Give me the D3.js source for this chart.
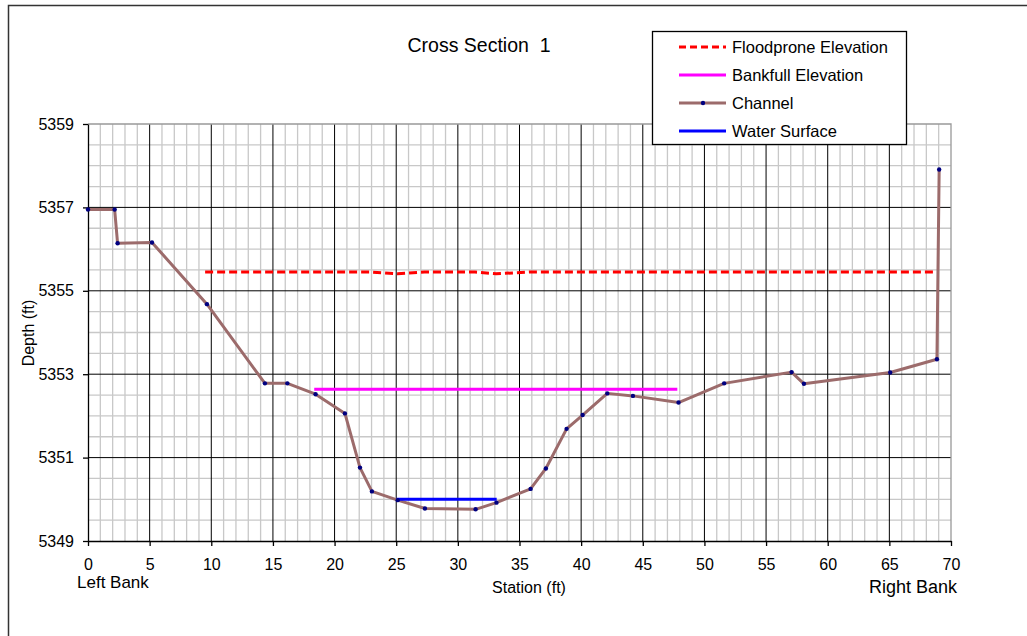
<!DOCTYPE html>
<html>
<head>
<meta charset="utf-8">
<script src="https://cdn.jsdelivr.net/npm/d3@7"></script>
<style>
  html, body { margin: 0; padding: 0; background: #fff; }
  svg { display: block; font-family: "Liberation Sans", Arial, sans-serif; }
  .axis text { font-size: 16px; font-family: "Liberation Sans", Arial, sans-serif; fill: #000; }
</style>
</head>
<body>
<svg id="chart" width="1027" height="636"></svg>
<script>
'use strict';

// ─── Data ────────────────────────────────────────────────────────────────────
const channelStation = [0, 2.16, 2.4, 5.19, 9.65, 14.35, 16.17, 18.46, 20.84, 22.06, 23.03, 25.12,
  27.33, 31.44, 33.13, 35.9, 37.14, 38.82, 40.12, 42.12, 44.2, 47.9, 51.6, 57.07, 58.07, 65.07, 68.86, 69.04];
const channelElev = [5356.95, 5356.95, 5356.14, 5356.16, 5354.68, 5352.78, 5352.78, 5352.52, 5352.06, 5350.76,
  5350.19, 5349.98, 5349.78, 5349.76, 5349.92, 5350.25, 5350.74, 5351.69, 5352.02, 5352.54, 5352.48, 5352.32,
  5352.78, 5353.05, 5352.77, 5353.04, 5353.36, 5357.91];

const floodStation = [9.5, 23.0, 25.1, 27.3, 31.4, 33.1, 35.9, 68.7];
const floodElev    = [5355.45, 5355.45, 5355.41, 5355.45, 5355.45, 5355.41, 5355.45, 5355.45];

const bankfullStation = [18.35, 47.8];
const bankfullElev    = [5352.64, 5352.64];

const waterStation = [25.03, 33.15];
const waterElev    = [5350.0, 5350.0];

const xTicks = [0, 5, 10, 15, 20, 25, 30, 35, 40, 45, 50, 55, 60, 65, 70];
const yTicks = [5349, 5351, 5353, 5355, 5357, 5359];

const legendItems = [
  { label: 'Floodprone Elevation', color: '#ff0000', dash: '7,4', marker: false },
  { label: 'Bankfull Elevation',   color: '#ff00ff', dash: null,  marker: false },
  { label: 'Channel',              color: '#9c6b6b', dash: null,  marker: true  },
  { label: 'Water Surface',        color: '#0000ff', dash: null,  marker: false },
];

// ─── Layout ──────────────────────────────────────────────────────────────────
const svg = d3.select('#chart');
const L = 88, R = 951, T = 124, B = 541;

const x = d3.scaleLinear().domain([0, 70]).range([L, R]);
const y = d3.scaleLinear().domain([5349, 5359]).range([B, T]);

// outer frame (right/bottom run past the picture)
svg.append('rect')
  .attr('x', 8.5).attr('y', 5.5).attr('width', 1040).attr('height', 660)
  .attr('fill', 'none').attr('stroke', '#333').attr('stroke-width', 1.5);

// ─── Grid ────────────────────────────────────────────────────────────────────
const grid = svg.append('g');
grid.selectAll('line.vminor')
  .data(d3.range(1, 70).filter(v => v % 5 !== 0))
  .join('line')
  .attr('x1', d => x(d)).attr('x2', d => x(d))
  .attr('y1', T).attr('y2', B)
  .attr('stroke', '#c8c8c8').attr('stroke-width', 1.3);
grid.selectAll('line.hminor')
  .data(d3.range(5349.5, 5359, 0.5).filter(v => (v - 5349) % 2 !== 0))
  .join('line')
  .attr('x1', L).attr('x2', R)
  .attr('y1', d => y(d)).attr('y2', d => y(d))
  .attr('stroke', '#c8c8c8').attr('stroke-width', 1.3);
grid.selectAll('line.vmajor')
  .data(xTicks.filter(v => v > 0 && v < 70))
  .join('line')
  .attr('x1', d => x(d)).attr('x2', d => x(d))
  .attr('y1', T).attr('y2', B)
  .attr('stroke', '#000').attr('stroke-width', 1);
grid.selectAll('line.hmajor')
  .data(yTicks.filter(v => v > 5349 && v < 5359))
  .join('line')
  .attr('x1', L).attr('x2', R)
  .attr('y1', d => y(d)).attr('y2', d => y(d))
  .attr('stroke', '#000').attr('stroke-width', 1);

// plot border (top / right)
svg.append('path')
  .attr('d', `M${L},${T}H${R}V${B}`)
  .attr('fill', 'none').attr('stroke', '#999').attr('stroke-width', 1.3);

// ─── Axes ────────────────────────────────────────────────────────────────────
const xAxis = svg.append('g')
  .attr('class', 'axis')
  .attr('transform', `translate(0,${B})`)
  .call(d3.axisBottom(x).tickValues(xTicks).tickSize(5).tickPadding(13).tickSizeOuter(0));
const yAxis = svg.append('g')
  .attr('class', 'axis')
  .attr('transform', `translate(${L},0)`)
  .call(d3.axisLeft(y).tickValues(yTicks).tickFormat(d3.format('d')).tickSize(5).tickPadding(9).tickSizeOuter(0));

[xAxis, yAxis].forEach(a => {
  a.attr('font-size', 16);
  a.select('.domain').attr('stroke', '#000').attr('stroke-width', 1.3);
  a.selectAll('.tick line').attr('stroke', '#000').attr('stroke-width', 1.3);
});

// axis titles
svg.append('text')
  .attr('x', 529).attr('y', 593)
  .attr('text-anchor', 'middle').attr('font-size', 16)
  .text('Station (ft)');
svg.append('text')
  .attr('transform', 'translate(34,333) rotate(-90)')
  .attr('text-anchor', 'middle').attr('font-size', 16)
  .text('Depth (ft)');
svg.append('text')
  .attr('x', 77).attr('y', 588).attr('font-size', 17)
  .text('Left Bank');
svg.append('text')
  .attr('x', 957).attr('y', 593).attr('text-anchor', 'end').attr('font-size', 18)
  .text('Right Bank');

// title
svg.append('text')
  .attr('x', 479).attr('y', 52)
  .attr('text-anchor', 'middle').attr('font-size', 19.5)
  .attr('xml:space', 'preserve').style('white-space', 'pre')
  .text('Cross Section  1');

// ─── Series ──────────────────────────────────────────────────────────────────
const line = d3.line().x(d => x(d[0])).y(d => y(d[1]));
const zip = (a, b) => a.map((v, i) => [v, b[i]]);

svg.append('path')
  .attr('d', line(zip(floodStation, floodElev)))
  .attr('fill', 'none').attr('stroke', '#ff0000').attr('stroke-width', 3)
  .attr('stroke-dasharray', '8,4');

svg.append('path')
  .attr('d', line(zip(bankfullStation, bankfullElev)))
  .attr('fill', 'none').attr('stroke', '#ff00ff').attr('stroke-width', 3);

const channel = zip(channelStation, channelElev);
svg.append('path')
  .attr('d', line(channel))
  .attr('fill', 'none').attr('stroke', '#9c6b6b').attr('stroke-width', 3)
  .attr('stroke-linejoin', 'round');

svg.append('path')
  .attr('d', line(zip(waterStation, waterElev)))
  .attr('fill', 'none').attr('stroke', '#0000ff').attr('stroke-width', 3);

svg.append('g').selectAll('circle')
  .data(channel)
  .join('circle')
  .attr('cx', d => x(d[0])).attr('cy', d => y(d[1]))
  .attr('r', 2.2).attr('fill', '#000080');

// ─── Legend ──────────────────────────────────────────────────────────────────
const lg = svg.append('g');
lg.append('rect')
  .attr('x', 652.5).attr('y', 31.5).attr('width', 254).attr('height', 113)
  .attr('fill', '#fff').attr('stroke', '#000').attr('stroke-width', 1.3);

const rowY = [47, 75, 103, 131];
legendItems.forEach((it, i) => {
  const g = lg.append('g').attr('transform', `translate(0,${rowY[i]})`);
  g.append('line')
    .attr('x1', 679).attr('x2', 726)
    .attr('stroke', it.color).attr('stroke-width', 3)
    .attr('stroke-dasharray', it.dash);
  if (it.marker) g.append('circle').attr('cx', 703).attr('r', 2.2).attr('fill', '#000080');
  g.append('text')
    .attr('x', 732).attr('dy', '0.36em').attr('font-size', 16.5)
    .text(it.label);
});
</script>
</body>
</html>
